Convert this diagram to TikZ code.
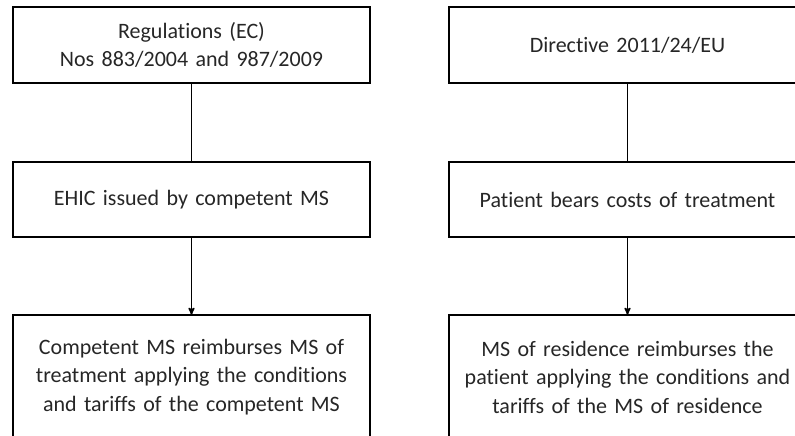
\documentclass[tikz,border=0pt]{standalone}
\usepackage{fontspec}
\setmainfont{Carlito}[Ligatures=CommonOff]
\usetikzlibrary{positioning}
\usetikzlibrary{arrows}
\tikzset{
    %Define standard arrow tip
    >=stealth',
    % Define connector styles
    pil/.style={
           ->,
           line width=1.5pt},
    lin/.style={
           -,
           line width=1.5pt}
}
\newcommand{\boxwidth}{357pt}
\newcommand{\boxfont}{\fontsize{22}{28.5}\selectfont}

\begin{document}
\begin{tikzpicture}[x=1pt, y=1pt, node distance=0pt, outer sep=0pt]
\useasboundingbox (0,0) rectangle (795,-436);
\clip (0,0) rectangle (795,-436);
\tikzstyle{rule}=[ draw,
                  rectangle,
                  line width=1.5pt,
                  text width=\boxwidth, inner xsep=0pt,
                  align=center,
                  text=black!85,
                  font=\boxfont,
                  anchor=north west]

\node[rule, minimum height=76pt] (regs) at (13,-7) {Regulations (EC)\\Nos 883/2004 and 987/2009};
\node[rule, minimum height=76pt] (dir)  [right = 79pt of regs] {Directive 2011/24/EU};

\node[rule, minimum height=75pt] (ehic)  [below = 79pt of regs] {EHIC issued by competent MS};
\node[rule, minimum height=75pt] (bears) [below = 79pt of dir]  {Patient bears costs of treatment};

\node[rule, minimum height=124pt] (compreimb) [below = 78pt of ehic]
    {Competent MS reimburses MS of\\treatment applying the conditions\\and tariffs of the competent MS};
\node[rule, minimum height=124pt] (resreimb)  [below = 78pt of bears]
    {MS of residence reimburses the\\patient applying the conditions and\\tariffs of the MS of residence};

\path[lin] (regs.south) edge (ehic.north);
\path[lin] (dir.south)  edge (bears.north);
\path[pil] (ehic.south)  edge (compreimb.north);
\path[pil] (bears.south) edge (resreimb.north);

\end{tikzpicture}
\end{document}
